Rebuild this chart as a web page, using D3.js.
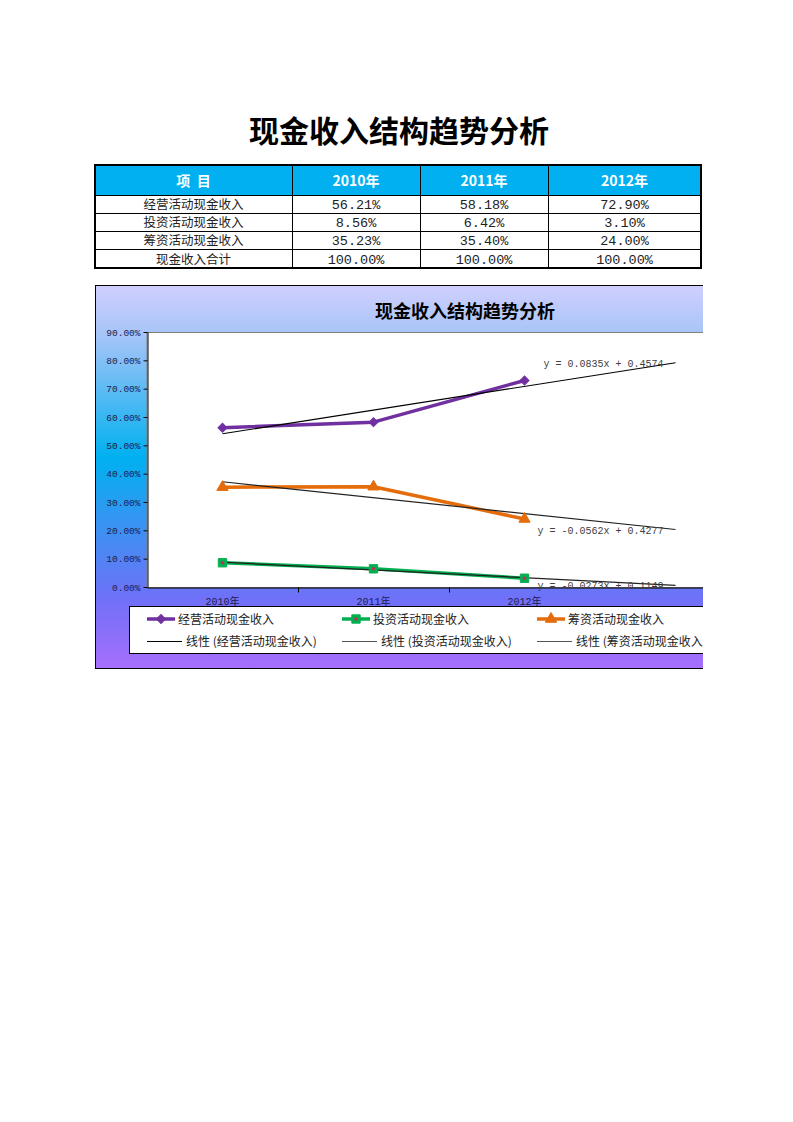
<!DOCTYPE html>
<html>
<head>
<meta charset="utf-8">
<script src="https://cdn.jsdelivr.net/npm/d3@7"></script>
<style>
body { margin: 0; background: #fff; }
</style>
</head>
<body>
<div id="chart"></div>
<script>
// data read from the sheet
var years = ["2010年", "2011年", "2012年"];
var items = ["经营活动现金收入", "投资活动现金收入", "筹资活动现金收入"];
var operating = [0.5621, 0.5818, 0.7290];
var investing = [0.0856, 0.0642, 0.0310];
var financing = [0.3523, 0.3540, 0.2400];
var totals = [1, 1, 1];
var totalLabel = "现金收入合计";
// linear trendline coefficients (y = a*x + b), same order as items
var trendSlope = [0.0835, -0.0273, -0.0562];
var trendIntercept = [0.4574, 0.1149, 0.4277];

var w = 793, h = 1122;
var mono = "'Liberation Mono', 'Noto Sans CJK SC', monospace";
var cjk = "'Noto Sans CJK SC', sans-serif";
var pct = d3.format(".2%");

var svg = d3.select("#chart").append("svg").attr("width", w).attr("height", h);

// page title
svg.append("text").text("现金收入结构趋势分析")
    .attr("x", 399).attr("y", 142)
    .attr("text-anchor", "middle")
    .attr("font-family", cjk).attr("font-weight", "bold").attr("font-size", "30px")
    .style("fill", "#000");

// ---- table ----
var colX = [95, 292, 420, 548, 701];
var rowY = [165, 195, 213, 231, 249, 268];
var rows = [
    [items[0]].concat(operating),
    [items[1]].concat(investing),
    [items[2]].concat(financing),
    [totalLabel].concat(totals)
];

svg.append("rect").attr("x", colX[0]).attr("y", rowY[0])
    .attr("width", colX[4] - colX[0]).attr("height", rowY[1] - rowY[0])
    .style("fill", "#00b0f0");

var header = ["项  目"].concat(years);
svg.selectAll("text.head").data(header).enter().append("text")
    .attr("class", "head")
    .text(function(d){ return d; })
    .attr("x", function(d, i){ return (colX[i] + colX[i + 1]) / 2; })
    .attr("y", 186)
    .attr("text-anchor", "middle")
    .attr("font-family", cjk).attr("font-weight", "bold").attr("font-size", "14px")
    .attr("xml:space", "preserve")
    .style("fill", "#fff");

rows.forEach(function(r, ri){
    var y0 = rowY[ri + 1], y1 = rowY[ri + 2];
    svg.selectAll("text.r" + ri).data(r).enter().append("text")
        .attr("class", "r" + ri)
        .text(function(d, i){ return i == 0 ? d : pct(d); })
        .attr("x", function(d, i){ return (colX[i] + colX[i + 1]) / 2; })
        .attr("y", (y0 + y1) / 2 + 5)
        .attr("text-anchor", "middle")
        .attr("font-family", function(d, i){ return i == 0 ? cjk : mono; })
        .attr("font-size", function(d, i){ return i == 0 ? "12.5px" : "13.5px"; })
        .style("fill", "#222");
});

// grid lines of the table
for (var i = 1; i < rowY.length - 1; i++) {
    svg.append("line").attr("x1", colX[0]).attr("x2", colX[4])
        .attr("y1", rowY[i] + 0.5).attr("y2", rowY[i] + 0.5)
        .style("stroke", "#000").style("stroke-width", 1);
}
for (var j = 1; j < colX.length - 1; j++) {
    svg.append("line").attr("x1", colX[j] + 0.5).attr("x2", colX[j] + 0.5)
        .attr("y1", rowY[0]).attr("y2", rowY[5])
        .style("stroke", "#000").style("stroke-width", 1);
}
svg.append("rect").attr("x", colX[0]).attr("y", rowY[0])
    .attr("width", colX[4] - colX[0]).attr("height", rowY[5] - rowY[0])
    .style("fill", "none").style("stroke", "#000").style("stroke-width", 2);

// ---- chart ----
var defs = svg.append("defs");
var grad = defs.append("linearGradient").attr("id", "bg")
    .attr("x1", 0).attr("y1", 0).attr("x2", 0).attr("y2", 1);
[["0", "#d0cffd"], ["0.13", "#a6c4f8"], ["0.45", "#00b0f0"], ["0.63", "#3b92f2"],
 ["0.82", "#7070f8"], ["1", "#a86ffd"]].forEach(function(s){
    grad.append("stop").attr("offset", s[0]).attr("stop-color", s[1]);
});
defs.append("clipPath").attr("id", "page").append("rect")
    .attr("x", 0).attr("y", 0).attr("width", 703).attr("height", h);

var chart = svg.append("g").attr("clip-path", "url(#page)");

chart.append("rect").attr("x", 95.5).attr("y", 285.5).attr("width", 720).attr("height", 383)
    .style("fill", "url(#bg)").style("stroke", "#000").style("stroke-width", 1);

chart.append("text").text("现金收入结构趋势分析")
    .attr("x", 465).attr("y", 318)
    .attr("text-anchor", "middle")
    .attr("font-family", cjk).attr("font-weight", "bold").attr("font-size", "18px")
    .style("fill", "#000");

var plotL = 147, plotT = 332, plotB = 587;
var x = d3.scaleLinear().domain([0.5, 4.5]).range([plotL, 751]);
var y = d3.scaleLinear().domain([0, 0.9]).range([plotB, plotT]);

chart.append("rect").attr("x", plotL).attr("y", plotT + 0.5)
    .attr("width", 751 - plotL).attr("height", plotB - plotT)
    .style("fill", "#fff").style("stroke", "#808080").style("stroke-width", 1);

var yAxis = chart.append("g").attr("transform", "translate(" + (plotL + 0.5) + ",0)")
    .call(d3.axisLeft(y).tickValues(y.ticks(9)).tickFormat(pct).tickSize(4).tickPadding(3).tickSizeOuter(0));
yAxis.selectAll("text").attr("font-family", mono).attr("font-size", "9.5px").style("fill", "#1c1c50");
yAxis.selectAll("line, path").style("stroke", "#000");

var xAxis = chart.append("g").attr("transform", "translate(0," + (plotB + 0.5) + ")")
    .call(d3.axisBottom(x).tickValues(d3.range(1.5, years.length)).tickFormat("").tickSize(5).tickSizeOuter(0));
xAxis.selectAll("line, path").style("stroke", "#000");

chart.selectAll("text.xl").data(years).enter().append("text")
    .attr("class", "xl")
    .text(function(d){ return d; })
    .attr("x", function(d, i){ return x(i + 1); })
    .attr("y", 604.5)
    .attr("text-anchor", "middle")
    .attr("font-family", mono).attr("font-size", "10px")
    .style("fill", "#1c1c50");

var series = [
    { name: items[0], values: operating, color: "#7030a0", marker: d3.symbolSquare, size: 40, rot: 45 },
    { name: items[1], values: investing, color: "#00b050", marker: d3.symbolSquare, size: 70, rot: 0 },
    { name: items[2], values: financing, color: "#e46c0a", marker: d3.symbolTriangle, size: 55, rot: 0 }
];
var trendColor = ["#000", "#222", "#222"];

var line = d3.line()
    .x(function(d, i){ return x(i + 1); })
    .y(function(d){ return y(d); });

series.forEach(function(s){
    chart.append("path").datum(s.values)
        .attr("d", line)
        .style("fill", "none").style("stroke", s.color).style("stroke-width", 3.5)
        .style("stroke-linejoin", "round");
});

// trendlines, forecast one period forward
series.forEach(function(s, k){
    var a = trendSlope[k], b = trendIntercept[k];
    var pts = [1, years.length + 1];
    chart.append("line")
        .attr("x1", x(pts[0])).attr("y1", y(a * pts[0] + b))
        .attr("x2", x(pts[1])).attr("y2", y(a * pts[1] + b))
        .style("stroke", trendColor[k]).style("stroke-width", 1.2);
    var eq = "y = " + a.toFixed(4) + "x + " + b.toFixed(4);
    chart.append("text").text(eq)
        .attr("x", x(pts[1]) - 12)
        .attr("y", y(a * pts[1] + b) + 4)
        .attr("text-anchor", "end")
        .attr("font-family", mono).attr("font-size", "10px")
        .attr("xml:space", "preserve")
        .style("fill", "#404040");
});

series.forEach(function(s){
    chart.selectAll(null).data(s.values).enter().append("path")
        .attr("d", d3.symbol().type(s.marker).size(s.size))
        .attr("transform", function(d, i){ return "translate(" + x(i + 1) + "," + y(d) + ") rotate(" + s.rot + ")"; })
        .style("fill", s.color).style("stroke", s.color).style("stroke-width", 1);
});
chart.selectAll(null).data(investing).enter().append("circle")
    .attr("cx", function(d, i){ return x(i + 1); })
    .attr("cy", function(d){ return y(d); })
    .attr("r", 1.8)
    .style("fill", "#c0305a");

// legend
chart.append("rect").attr("x", 129.5).attr("y", 606.5).attr("width", 700).attr("height", 47)
    .style("fill", "#fff").style("stroke", "#000").style("stroke-width", 1);

series.forEach(function(s, k){
    var lx = 147 + k * 195;
    chart.append("line").attr("x1", lx).attr("x2", lx + 28).attr("y1", 619).attr("y2", 619)
        .style("stroke", s.color).style("stroke-width", 3.5);
    chart.append("path")
        .attr("d", d3.symbol().type(s.marker).size(s.size))
        .attr("transform", "translate(" + (lx + 14) + ",619) rotate(" + s.rot + ")")
        .style("fill", s.color).style("stroke", s.color);
    chart.append("text").text(s.name)
        .attr("x", lx + 31).attr("y", 623.5)
        .attr("font-family", cjk).attr("font-size", "12px")
        .style("fill", "#222");

    chart.append("line").attr("x1", lx).attr("x2", lx + 35).attr("y1", 641.5).attr("y2", 641.5)
        .style("stroke", k == 0 ? "#000" : "#555").style("stroke-width", 1.2);
    chart.append("text").text("线性 (" + s.name + ")")
        .attr("x", lx + 39).attr("y", 646)
        .attr("font-family", cjk).attr("font-size", "12px")
        .style("fill", "#222");
});
chart.append("circle").attr("cx", 147 + 195 + 14).attr("cy", 619).attr("r", 1.8).style("fill", "#c0305a");
</script>
</body>
</html>
